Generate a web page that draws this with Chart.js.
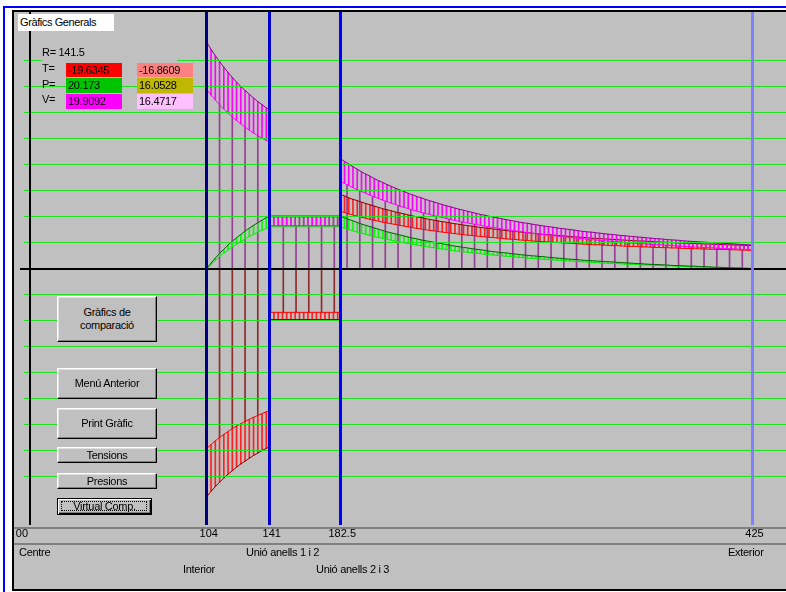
<!DOCTYPE html>
<html><head><meta charset="utf-8">
<script src="https://cdn.jsdelivr.net/npm/chart.js@4.4.1/dist/chart.umd.min.js"></script>
<style>
html,body{margin:0;padding:0;background:#fff;width:786px;height:592px;overflow:hidden;}
body{position:relative;font-family:"Liberation Sans",Arial,sans-serif;font-size:11px;color:#000;}
#blue{position:absolute;left:3px;top:6px;width:820px;height:620px;border-left:2px solid #0000ff;border-top:2px solid #0000ff;}
#frame{position:absolute;left:12px;top:10px;width:820px;height:577px;border:2px solid #000;background:#c0c0c0;}
.hl{position:absolute;left:14px;width:772px;height:2px;background:#808080;}
#c{position:absolute;left:0;top:0;}
.t{position:absolute;white-space:nowrap;letter-spacing:-0.3px;}
#title{position:absolute;left:18px;top:14px;width:94px;height:17px;line-height:17px;padding-left:2px;background:#fff;letter-spacing:-0.4px;}
.box{position:absolute;width:54px;height:15px;line-height:15px;padding-left:2px;letter-spacing:-0.3px;}
.btn{position:absolute;box-sizing:border-box;background:#c0c0c0;border:1px solid;border-color:#fff #000 #000 #fff;box-shadow:inset -1px -1px 0 #808080, inset 1px 1px 0 #dfdfdf;display:flex;align-items:center;justify-content:center;text-align:center;line-height:13px;letter-spacing:-0.3px;}
#vc{border:1px solid #000;box-shadow:inset 1px 1px 0 #fff, inset -1px -1px 0 #000, inset -2px -2px 0 #808080;}
#vc .focus{position:absolute;left:3px;top:2px;right:4px;bottom:3px;border:1px dotted #000;}
</style>
</head><body>
<div id="blue"></div>
<div id="frame"></div>
<div class="hl" style="top:527px"></div>
<div class="hl" style="top:543px"></div>
<canvas id="c" width="786" height="592"></canvas>

<div id="title">Gràfics Generals</div>
<div class="t" id="rlab" style="left:42px;top:45px;width:135px;height:16px;line-height:15px;background:#c0c0c0;"></div>
<div class="t" style="left:42px;top:61px;line-height:15px;">T=</div>
<div class="t" style="left:42px;top:77px;line-height:15px;">P=</div>
<div class="t" style="left:42px;top:92px;line-height:15px;">V=</div>
<div class="box" id="bT0" style="left:66px;top:63px;height:14px;line-height:14px;background:#ff0000;"></div>
<div class="box" id="bP0" style="left:66px;top:78px;background:#00c400;"></div>
<div class="box" id="bV0" style="left:66px;top:94px;background:#ff00ff;"></div>
<div class="box" id="bT1" style="left:137px;top:63px;height:14px;line-height:14px;background:#ff8080;"></div>
<div class="box" id="bP1" style="left:137px;top:78px;background:#c0b800;"></div>
<div class="box" id="bV1" style="left:137px;top:94px;background:#ffc0ff;"></div>

<div class="btn" style="left:57px;top:296px;width:100px;height:46px;">Gràfics de<br>comparació</div>
<div class="btn" style="left:57px;top:368px;width:100px;height:31px;">Menú Anterior</div>
<div class="btn" style="left:57px;top:408px;width:100px;height:31px;">Print Gràfic</div>
<div class="btn" style="left:57px;top:447px;width:100px;height:16px;">Tensions</div>
<div class="btn" style="left:57px;top:473px;width:100px;height:16px;">Presions</div>
<div class="btn" id="vc" style="left:57px;top:498px;width:95px;height:17px;"><span class="focus"></span>Virtual Comp.</div>

<div class="t" style="left:19px;top:545px;line-height:14px;">Centre</div>
<div class="t" style="left:246px;top:545px;line-height:14px;">Unió anells 1 i 2</div>
<div class="t" style="left:728px;top:545px;line-height:14px;">Exterior</div>
<div class="t" style="left:183px;top:562px;line-height:14px;">Interior</div>
<div class="t" style="left:316px;top:562px;line-height:14px;">Unió anells 2 i 3</div>

<script>
// ---- axis marks (radii) and their labels ----
const axisMarks  = [0, 104, 141, 182.5, 425];
const axisLabels = ["00", "104", "141", "182.5", "425"];
const gridValues = [-80, -70, -60, -50, -40, -30, -20, -10, 0, 10, 20, 30, 40, 50, 60, 70, 80];

// ---- cursor readout ----
const cursorR = 141.5;
const valT = [-19.6345, -16.8609];
const valP = [20.173, 16.0528];
const valV = [19.9092, 16.4717];

// ---- ring 1 (104 - 141) ----
const ring1R  = [104, 106.5, 109, 111.5, 114, 116.5, 119, 121.5, 124, 126.5, 129, 131.5, 134, 136.5, 139, 141];
const ring1V1 = [87.0, 84.3, 81.9, 79.6, 77.4, 75.4, 73.5, 71.7, 70.0, 68.5, 67.0, 65.6, 64.2, 63.0, 61.8, 60.9];
const ring1V2 = [68.8, 66.7, 64.8, 63.0, 61.3, 59.8, 58.3, 56.9, 55.6, 54.4, 53.2, 52.1, 51.1, 50.1, 49.2, 48.5];
const ring1T1 = [-87.7, -85.7, -83.9, -82.2, -80.6, -79.1, -77.8, -76.4, -75.2, -74.1, -73.0, -71.9, -71.0, -70.0, -69.2, -68.5];
const ring1T2 = [-69.2, -67.7, -66.3, -65.0, -63.8, -62.7, -61.6, -60.6, -59.7, -58.8, -58.0, -57.2, -56.5, -55.8, -55.1, -54.6];
const ring1P1 = [0, 2.1, 4.0, 5.8, 7.4, 9.0, 10.5, 11.8, 13.1, 14.4, 15.5, 16.6, 17.6, 18.6, 19.5, 20.2];
const ring1P2 = [0, 1.6, 3.1, 4.6, 5.9, 7.1, 8.3, 9.4, 10.4, 11.4, 12.3, 13.1, 14.0, 14.7, 15.4, 16.0];

// ---- ring 2 (141 - 182.5), levels = cursor readout ----
const ring2Ends  = [141, 182.5];
const ring2Hatch = [143.5, 146, 148.5, 151, 153.5, 156, 158.5, 161, 163.5, 166, 168.5, 171, 173.5, 176, 178.5, 181];

// ---- ring 3 (182.5 - 425) ----
const ring3R = [182.5, 185, 187.5, 190, 192.5, 195, 197.5, 200, 202.5, 205, 207.5, 210, 212.5, 215, 217.5, 220, 222.5, 225, 227.5, 230, 232.5, 235, 237.5, 240, 242.5, 245, 247.5, 250, 252.5, 255, 257.5, 260, 262.5, 265, 267.5, 270, 272.5, 275, 277.5, 280, 282.5, 285, 287.5, 290, 292.5, 295, 297.5, 300, 302.5, 305, 307.5, 310, 312.5, 315, 317.5, 320, 322.5, 325, 327.5, 330, 332.5, 335, 337.5, 340, 342.5, 345, 347.5, 350, 352.5, 355, 357.5, 360, 362.5, 365, 367.5, 370, 372.5, 375, 377.5, 380, 382.5, 385, 387.5, 390, 392.5, 395, 397.5, 400, 402.5, 405, 407.5, 410, 412.5, 415, 417.5, 420, 422.5, 425];
const ring3V1 = [42.3, 41.2, 40.2, 39.1, 38.2, 37.2, 36.3, 35.5, 34.6, 33.8, 33.1, 32.3, 31.6, 30.9, 30.2, 29.6, 28.9, 28.3, 27.7, 27.2, 26.6, 26.1, 25.6, 25.1, 24.6, 24.1, 23.7, 23.2, 22.8, 22.4, 22.0, 21.6, 21.2, 20.8, 20.5, 20.1, 19.8, 19.5, 19.1, 18.8, 18.5, 18.2, 17.9, 17.6, 17.4, 17.1, 16.8, 16.6, 16.3, 16.1, 15.9, 15.6, 15.4, 15.2, 15.0, 14.8, 14.5, 14.3, 14.1, 14.0, 13.8, 13.6, 13.4, 13.2, 13.1, 12.9, 12.7, 12.6, 12.4, 12.3, 12.1, 12.0, 11.8, 11.7, 11.5, 11.4, 11.3, 11.1, 11.0, 10.9, 10.8, 10.6, 10.5, 10.4, 10.3, 10.2, 10.1, 10.0, 9.9, 9.8, 9.7, 9.6, 9.5, 9.4, 9.3, 9.2, 9.1, 9.0];
const ring3V2 = [33.6, 32.7, 31.9, 31.1, 30.3, 29.6, 28.9, 28.2, 27.5, 26.9, 26.3, 25.7, 25.1, 24.6, 24.0, 23.5, 23.0, 22.5, 22.1, 21.6, 21.2, 20.8, 20.3, 20.0, 19.6, 19.2, 18.8, 18.5, 18.1, 17.8, 17.5, 17.2, 16.9, 16.6, 16.3, 16.0, 15.8, 15.5, 15.2, 15.0, 14.7, 14.5, 14.3, 14.1, 13.8, 13.6, 13.4, 13.2, 13.0, 12.8, 12.6, 12.5, 12.3, 12.1, 11.9, 11.8, 11.6, 11.4, 11.3, 11.1, 11.0, 10.8, 10.7, 10.6, 10.4, 10.3, 10.2, 10.0, 9.9, 9.8, 9.7, 9.6, 9.4, 9.3, 9.2, 9.1, 9.0, 8.9, 8.8, 8.7, 8.6, 8.5, 8.4, 8.3, 8.2, 8.1, 8.1, 8.0, 7.9, 7.8, 7.7, 7.6, 7.6, 7.5, 7.4, 7.3, 7.3, 7.2];
const ring3T1 = [28.5, 27.9, 27.2, 26.6, 26.1, 25.5, 25.0, 24.5, 24.0, 23.5, 23.0, 22.6, 22.2, 21.7, 21.4, 21.0, 20.6, 20.2, 19.9, 19.6, 19.2, 18.9, 18.6, 18.3, 18.0, 17.8, 17.5, 17.2, 17.0, 16.7, 16.5, 16.3, 16.0, 15.8, 15.6, 15.4, 15.2, 15.0, 14.8, 14.6, 14.4, 14.3, 14.1, 13.9, 13.8, 13.6, 13.4, 13.3, 13.1, 13.0, 12.9, 12.7, 12.6, 12.5, 12.3, 12.2, 12.1, 12.0, 11.8, 11.7, 11.6, 11.5, 11.4, 11.3, 11.2, 11.1, 11.0, 10.9, 10.8, 10.7, 10.6, 10.6, 10.5, 10.4, 10.3, 10.2, 10.1, 10.1, 10.0, 9.9, 9.8, 9.8, 9.7, 9.6, 9.6, 9.5, 9.4, 9.4, 9.3, 9.3, 9.2, 9.1, 9.1, 9.0, 9.0, 8.9, 8.9, 8.8];
const ring3T2 = [22.0, 21.5, 21.0, 20.6, 20.1, 19.7, 19.3, 18.9, 18.5, 18.2, 17.8, 17.5, 17.2, 16.9, 16.6, 16.3, 16.0, 15.7, 15.4, 15.2, 14.9, 14.7, 14.5, 14.2, 14.0, 13.8, 13.6, 13.4, 13.2, 13.0, 12.8, 12.7, 12.5, 12.3, 12.2, 12.0, 11.9, 11.7, 11.6, 11.4, 11.3, 11.2, 11.0, 10.9, 10.8, 10.6, 10.5, 10.4, 10.3, 10.2, 10.1, 10.0, 9.9, 9.8, 9.7, 9.6, 9.5, 9.4, 9.3, 9.2, 9.1, 9.1, 9.0, 8.9, 8.8, 8.8, 8.7, 8.6, 8.5, 8.5, 8.4, 8.3, 8.3, 8.2, 8.1, 8.1, 8.0, 8.0, 7.9, 7.9, 7.8, 7.7, 7.7, 7.6, 7.6, 7.5, 7.5, 7.4, 7.4, 7.3, 7.3, 7.3, 7.2, 7.2, 7.1, 7.1, 7.0, 7.0];
const ring3P1 = [20.2, 19.5, 18.9, 18.3, 17.7, 17.1, 16.6, 16.1, 15.6, 15.1, 14.6, 14.1, 13.7, 13.3, 12.9, 12.5, 12.1, 11.7, 11.4, 11.0, 10.7, 10.4, 10.1, 9.8, 9.5, 9.2, 8.9, 8.6, 8.4, 8.1, 7.9, 7.6, 7.4, 7.2, 7.0, 6.7, 6.5, 6.3, 6.1, 6.0, 5.8, 5.6, 5.4, 5.2, 5.1, 4.9, 4.8, 4.6, 4.5, 4.3, 4.2, 4.0, 3.9, 3.7, 3.6, 3.5, 3.4, 3.2, 3.1, 3.0, 2.9, 2.8, 2.7, 2.6, 2.5, 2.4, 2.3, 2.2, 2.1, 2.0, 1.9, 1.8, 1.7, 1.6, 1.5, 1.5, 1.4, 1.3, 1.2, 1.1, 1.1, 1.0, 0.9, 0.9, 0.8, 0.7, 0.7, 0.6, 0.5, 0.5, 0.4, 0.3, 0.3, 0.2, 0.2, 0.1, 0.1, 0];
const ring3P2 = [16.0, 15.5, 15.0, 14.5, 14.0, 13.6, 13.1, 12.7, 12.3, 11.9, 11.6, 11.2, 10.9, 10.5, 10.2, 9.9, 9.6, 9.3, 9.0, 8.7, 8.5, 8.2, 8.0, 7.7, 7.5, 7.3, 7.0, 6.8, 6.6, 6.4, 6.2, 6.0, 5.9, 5.7, 5.5, 5.3, 5.2, 5.0, 4.9, 4.7, 4.6, 4.4, 4.3, 4.2, 4.0, 3.9, 3.8, 3.6, 3.5, 3.4, 3.3, 3.2, 3.1, 3.0, 2.9, 2.8, 2.7, 2.6, 2.5, 2.4, 2.3, 2.2, 2.1, 2.0, 2.0, 1.9, 1.8, 1.7, 1.6, 1.6, 1.5, 1.4, 1.4, 1.3, 1.2, 1.2, 1.1, 1.0, 1.0, 0.9, 0.8, 0.8, 0.7, 0.7, 0.6, 0.6, 0.5, 0.5, 0.4, 0.4, 0.3, 0.3, 0.2, 0.2, 0.1, 0.1, 0.0, 0];

// ---- drop lines from the axis ----
const dropR = [111.5, 119, 126.5, 134, 141.5, 149, 156.5, 164, 171.5, 179, 186.5, 194, 201.5, 209, 216.5, 224, 231.5, 239, 246.5, 254, 261.5, 269, 276.5, 284, 291.5, 299, 306.5, 314, 321.5, 329, 336.5, 344, 351.5, 359, 366.5, 374, 381.5, 389, 396.5, 404, 411.5, 419];
const dropTop = [63.0, 58.3, 54.4, 51.1, 16.5, 16.5, 16.5, 16.5, 16.5, 16.5, 32.2, 29.9, 27.8, 25.9, 24.2, 22.7, 21.3, 20.1, 19.0, 17.9, 17.0, 16.1, 15.3, 14.6, 13.9, 13.3, 12.7, 12.2, 11.7, 11.2, 10.8, 10.3, 10.0, 9.6, 9.3, 8.9, 8.6, 8.4, 8.1, 7.8, 7.6, 7.4];
const dropBottom = [-65.0, -61.6, -58.8, -56.5, -16.9, -16.9, -16.9, -16.9, -16.9, -16.9];

// fill readouts
document.getElementById('rlab').textContent = 'R= ' + cursorR;
document.getElementById('bT0').textContent = valT[0];
document.getElementById('bT1').textContent = valT[1];
document.getElementById('bP0').textContent = valP[0];
document.getElementById('bP1').textContent = valP[1];
document.getElementById('bV0').textContent = valV[0];
document.getElementById('bV1').textContent = valV[1];

// ---- build library data ----
const seg = (xs, ys) => xs.map((x, i) => ({x, y: ys[i]}));
const flat = (xs, v) => xs.map(x => ({x, y: v}));
const band = (xs, lo, hi) => xs.map((x, i) => ({x, y: [lo[i], hi[i]]}));
const flatBand = (xs, lo, hi) => xs.map(x => ({x, y: [lo, hi]}));

const lineV1 = [...seg(ring1R, ring1V1), ...flat(ring2Ends, valV[0]), ...seg(ring3R, ring3V1)];
const lineV2 = [...seg(ring1R, ring1V2), ...flat(ring2Ends, valV[1]), ...seg(ring3R, ring3V2)];
const lineT1 = [...seg(ring1R, ring1T1), ...flat(ring2Ends, valT[0]), ...seg(ring3R, ring3T1)];
const lineT2 = [...seg(ring1R, ring1T2), ...flat(ring2Ends, valT[1]), ...seg(ring3R, ring3T2)];
const lineP1 = [...seg(ring1R, ring1P1), ...flat(ring2Ends, valP[0]), ...seg(ring3R, ring3P1)];
const lineP2 = [...seg(ring1R, ring1P2), ...flat(ring2Ends, valP[1]), ...seg(ring3R, ring3P2)];

const hatchV = [...band(ring1R, ring1V2, ring1V1), ...flatBand(ring2Hatch, valV[1], valV[0]), ...band(ring3R, ring3V2, ring3V1)];
const hatchT = [...band(ring1R, ring1T1, ring1T2), ...flatBand(ring2Hatch, valT[0], valT[1]), ...band(ring3R, ring3T2, ring3T1)];
const hatchP = [...band(ring1R, ring1P2, ring1P1), ...flatBand(ring2Hatch, valP[1], valP[0]), ...band(ring3R, ring3P2, ring3P1)];

const dropsUp = dropR.map((x, i) => ({x, y: [0, dropTop[i]]}));
const dropsDown = dropBottom.map((v, i) => ({x: dropR[i], y: [v, 0]}));

const lineDS = (data, color, order) => ({type: 'line', data, borderColor: color, borderWidth: 1, pointRadius: 0, tension: 0, fill: false, order});
const barDS = (data, color, order) => ({type: 'bar', data, backgroundColor: color, borderWidth: 0, barThickness: 1, grouped: false, order});

const markColors = ['#000000', '#000080', '#0000c8', '#0000ff', '#8080ff'];
const markWidths = [2, 3, 3, 3, 3];

// horizontal grid drawn through the y scale, after the datasets (under the vertical marks)
const hGridPlugin = {
  id: 'hGrid',
  afterDatasetsDraw(chart) {
    const {ctx, chartArea: a} = chart; const ys = chart.scales.y;
    ctx.save();
    gridValues.forEach(v => {
      const row = Math.floor(ys.getPixelForValue(v));
      if (v === 0) { ctx.fillStyle = '#000000'; ctx.fillRect(a.left - 4, row, a.right - a.left + 4, 2); }
      else { ctx.fillStyle = '#20e020'; ctx.fillRect(a.left, row, a.right - a.left, 1); }
    });
    ctx.restore();
  }
};

const tickLabelPlugin = {
  id: 'tickLabels',
  afterDraw(chart) {
    const {ctx} = chart; const xs = chart.scales.x;
    ctx.save();
    ctx.font = '11px "Liberation Sans", Arial, sans-serif';
    ctx.fillStyle = '#000';
    ctx.textBaseline = 'middle';
    axisMarks.forEach((v, i) => {
      const px = xs.getPixelForValue(v);
      if (i === 0) { ctx.textAlign = 'right'; ctx.fillText(axisLabels[i], px - 2, 534); }
      else { ctx.textAlign = 'center'; ctx.fillText(axisLabels[i], px + 2, 534); }
    });
    ctx.restore();
  }
};

new Chart(document.getElementById('c'), {
  type: 'line',
  data: {
    datasets: [
      barDS(dropsUp, '#933e93', 30),
      barDS(dropsDown, '#8f2a2a', 30),
      barDS(hatchP, '#00ff00', 25),
      lineDS(lineP2, '#00ee00', 24),
      lineDS(lineP1, '#006400', 23),
      barDS(hatchT, '#ff2020', 20),
      lineDS(lineT2, '#ff0000', 19),
      lineDS(lineT1, '#8b0000', 18),
      barDS(hatchV, '#ff00ff', 15),
      lineDS(lineV2, '#ff00ff', 14),
      lineDS(lineV1, '#900090', 13)
    ]
  },
  options: {
    responsive: false,
    animation: false,
    events: [],
    layout: {padding: {left: 24, top: 12, right: 0, bottom: 67}},
    plugins: {legend: {display: false}, tooltip: {enabled: false}},
    scales: {
      x: {
        type: 'linear', min: -3.53, max: 444.71, offset: false,
        border: {display: false},
        ticks: {display: false},
        afterBuildTicks: s => { s.ticks = axisMarks.map(v => ({value: v})); },
        grid: {drawTicks: false, offset: false, z: 2, color: markColors, lineWidth: markWidths}
      },
      y: {
        type: 'linear', min: -98.65, max: 98.65,
        border: {display: false},
        ticks: {display: false},
        grid: {display: false, drawTicks: false}
      }
    }
  },
  plugins: [hGridPlugin, tickLabelPlugin]
});
</script>
</body></html>
